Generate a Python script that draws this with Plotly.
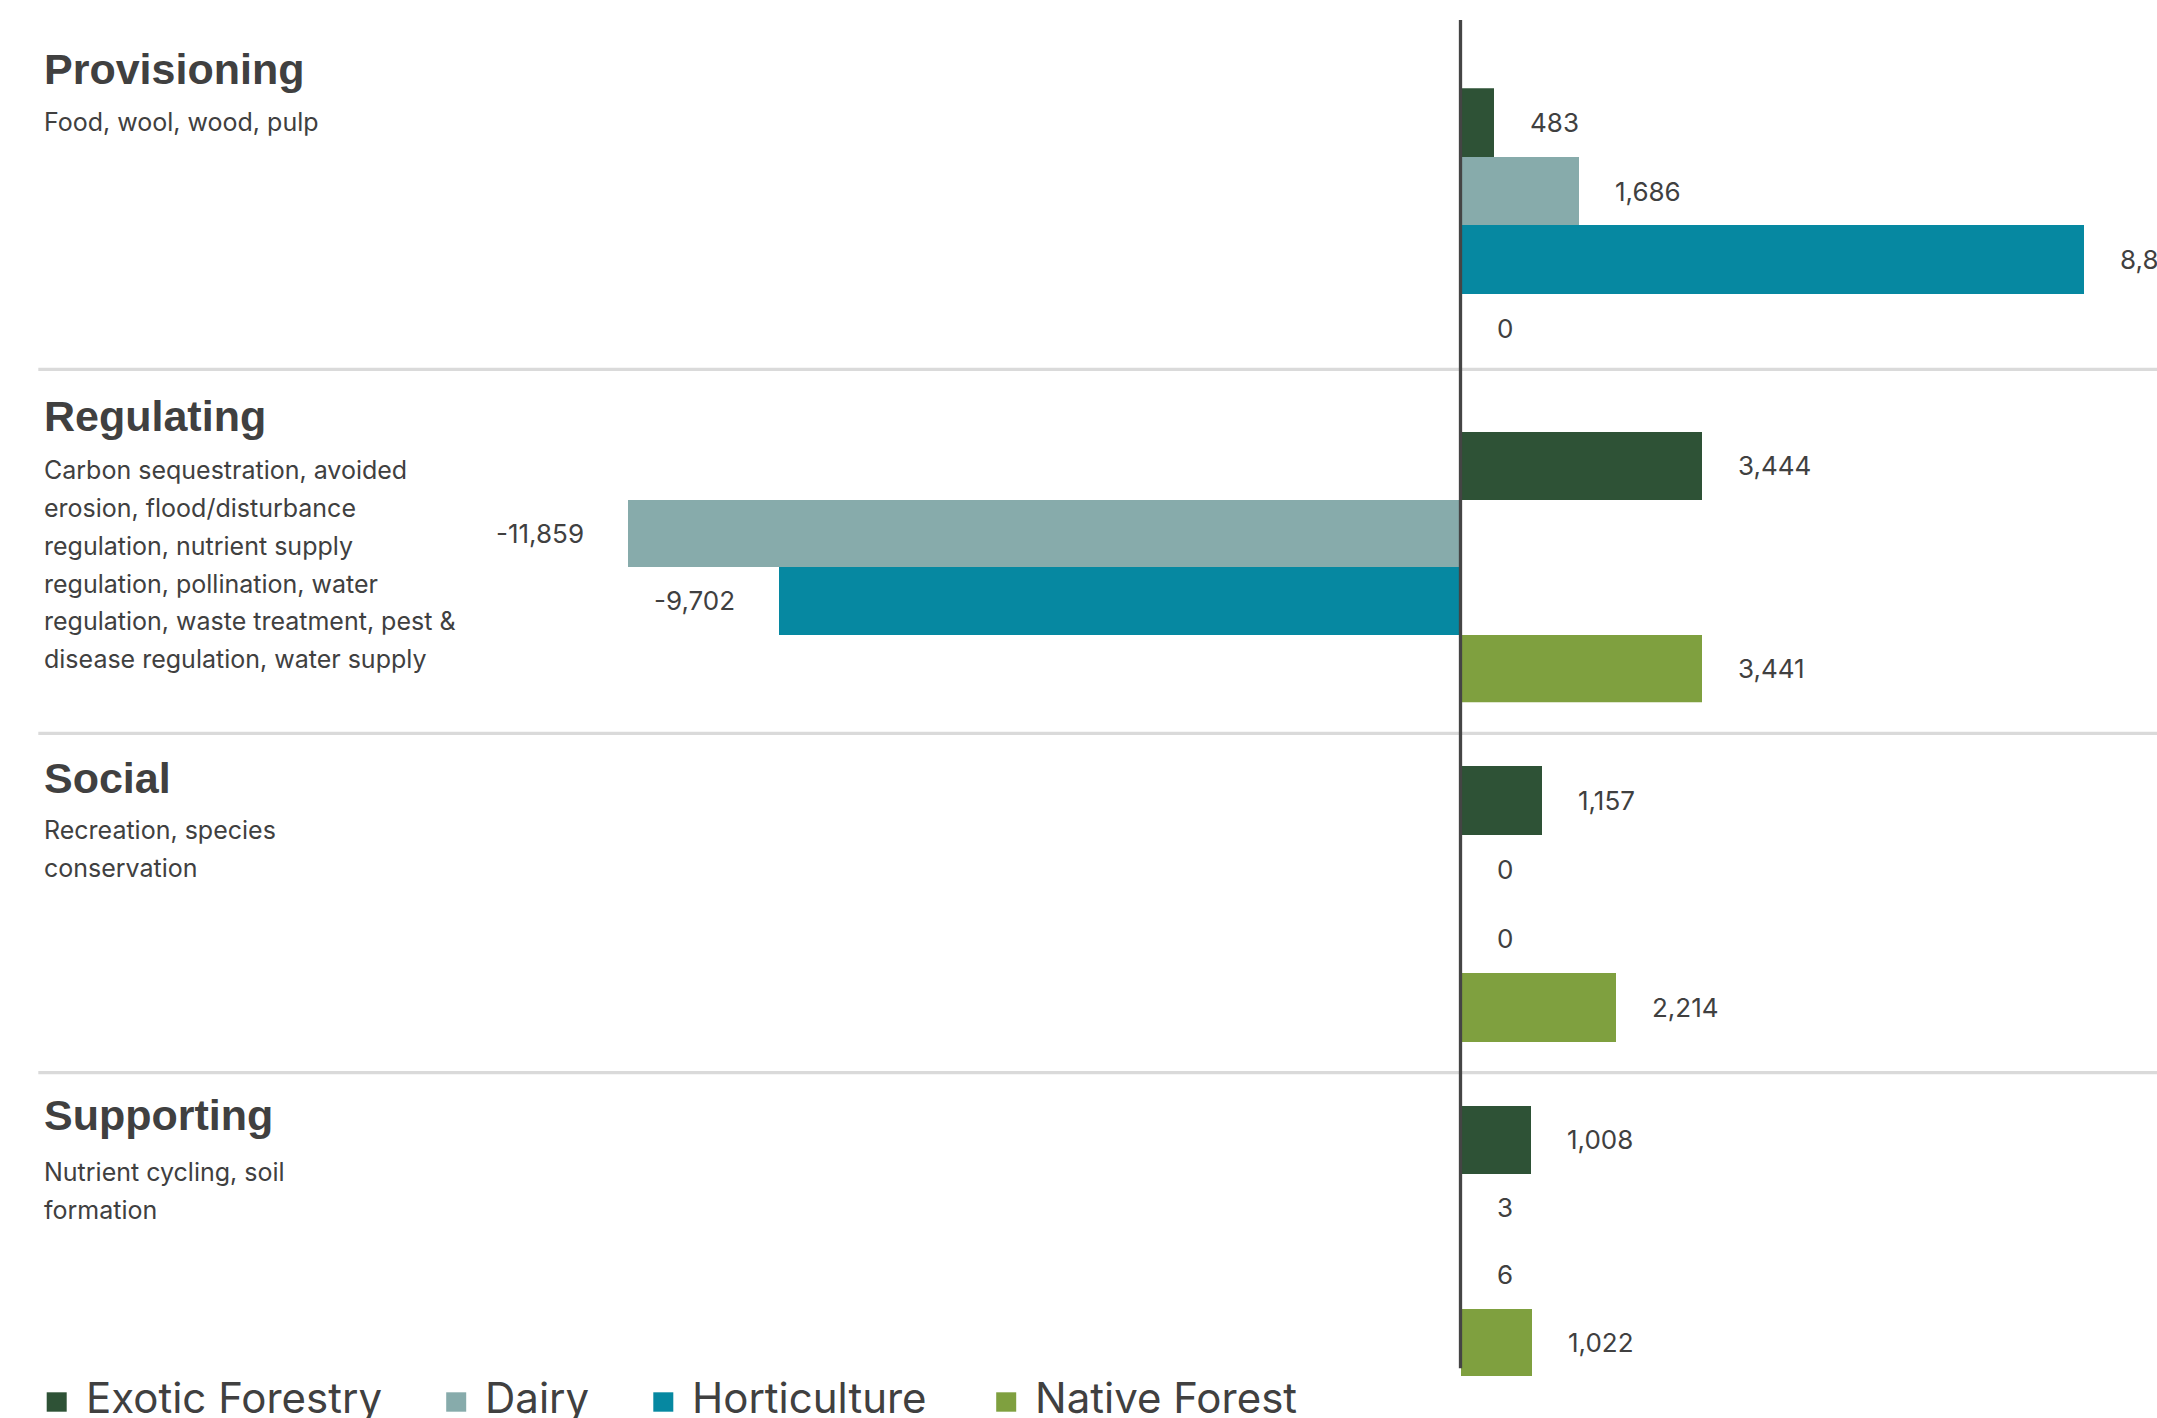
import plotly.graph_objects as go

W, H = 2157, 1418

# ---------------- data ----------------
categories = ["Provisioning", "Regulating", "Social", "Supporting"]
descriptions = [
    ["Food, wool, wood, pulp"],
    ["Carbon sequestration, avoided",
     "erosion, flood/disturbance",
     "regulation, nutrient supply",
     "regulation, pollination, water",
     "regulation, waste treatment, pest &",
     "disease regulation, water supply"],
    ["Recreation, species", "conservation"],
    ["Nutrient cycling, soil", "formation"],
]
series_names = ["Exotic Forestry", "Dairy", "Horticulture", "Native Forest"]
exotic_forestry = [483, 3444, 1157, 1008]
dairy = [1686, -11859, 0, 3]
horticulture = [8880, -9702, 0, 6]
native_forest = [0, 3441, 2214, 1022]
series_values = [exotic_forestry, dairy, horticulture, native_forest]

# ---------------- styles / layout ----------------
colors = ["#2e5236", "#87abab", "#0688a1", "#7fa03f"]
TEXT = "#404040"
HEAD_FONT = "Liberation Sans"
BODY_FONT = "Inter"

row_px = [(88.3, 362.5), (431.7, 702.3), (766.0, 1042.3), (1106.0, 1376.0)]
divider_px = [369.3, 733.3, 1072.7]
zero_px = 1460.5
px_per_unit = 0.0702
x_range = [-zero_px / px_per_unit, (W - zero_px) / px_per_unit]

head_cy = [68.7, 415.8, 778.2, 1114.7]
body_first_cy = [121.7, 470.4, 830.4, 1172.1]
body_step = 37.7
text_x = 42.5

legend_sq_cx = [56.7, 456.2, 663.3, 1006.2]
legend_sq_y = (1392.3, 1411.7)
legend_text_cy = 1397.2
legend_text_gap = 28


def py(p):
    return 1 - p / H


fig = go.Figure()
annotations = []
shapes = []
n = len(series_names)

for i, cat in enumerate(categories):
    yname = "y" if i == 0 else f"y{i + 1}"
    for j, name in enumerate(series_names):
        v = series_values[j][i]
        fig.add_trace(go.Bar(
            x=[v], y=[cat], orientation="h", name=name,
            marker=dict(color=colors[j], line=dict(width=0)),
            xaxis="x", yaxis=yname, offsetgroup=str(j),
            showlegend=False, hoverinfo="x+name",
        ))
        annotations.append(dict(
            x=v, y=-0.5 + (j + 0.5) / n, xref="x", yref=yname,
            text=f"{v:,}", showarrow=False,
            xanchor="left" if v >= 0 else "right",
            xshift=35 if v >= 0 else -43, yanchor="middle",
            borderpad=0, font=dict(family=BODY_FONT, size=26, color=TEXT),
        ))
    # left labels
    annotations.append(dict(
        x=text_x / W, y=py(head_cy[i]), xref="paper", yref="paper",
        text=f"<b>{cat}</b>", showarrow=False, xanchor="left", yanchor="middle",
        borderpad=0, font=dict(family=HEAD_FONT, size=43, color=TEXT),
    ))
    for k, line in enumerate(descriptions[i]):
        annotations.append(dict(
            x=text_x / W, y=py(body_first_cy[i] + k * body_step),
            xref="paper", yref="paper", text=line, showarrow=False,
            xanchor="left", yanchor="middle", borderpad=0,
            font=dict(family=BODY_FONT, size=25, color=TEXT),
        ))

# dividers
for d in divider_px:
    shapes.append(dict(type="line", xref="paper", yref="paper",
                       x0=38.3 / W, x1=1, y0=py(d), y1=py(d),
                       line=dict(color="#dadada", width=3.3), layer="below"))
# zero axis line
shapes.append(dict(type="line", xref="x", yref="paper", x0=0, x1=0,
                   y0=py(20), y1=py(1368.3),
                   line=dict(color="#454545", width=3.3), layer="above"))

# legend
for j, name in enumerate(series_names):
    cx = legend_sq_cx[j]
    shapes.append(dict(type="rect", xref="paper", yref="paper",
                       x0=(cx - 10) / W, x1=(cx + 10) / W,
                       y0=py(legend_sq_y[1]), y1=py(legend_sq_y[0]),
                       fillcolor=colors[j], line=dict(width=0)))
    annotations.append(dict(
        x=(cx + legend_text_gap) / W, y=py(legend_text_cy), xref="paper", yref="paper",
        text=name, showarrow=False, xanchor="left", yanchor="middle",
        borderpad=0, font=dict(family=BODY_FONT, size=42, color=TEXT),
    ))

layout = dict(
    width=W, height=H, margin=dict(l=0, r=0, t=0, b=0),
    paper_bgcolor="white", plot_bgcolor="white",
    barmode="group", bargap=0, bargroupgap=0,
    showlegend=False,
    xaxis=dict(domain=[0, 1], range=x_range, visible=False, fixedrange=True),
    annotations=annotations, shapes=shapes,
)
for i, (t, b) in enumerate(row_px):
    key = "yaxis" if i == 0 else f"yaxis{i + 1}"
    layout[key] = dict(domain=[py(b), py(t)], type="category",
                       range=[0.5, -0.5], visible=False, anchor="x",
                       fixedrange=True)

fig.update_layout(**layout)
fig.write_html("out.html", config={"displayModeBar": False},
               post_script="document.body.style.margin='0';document.body.style.overflow='hidden';")
